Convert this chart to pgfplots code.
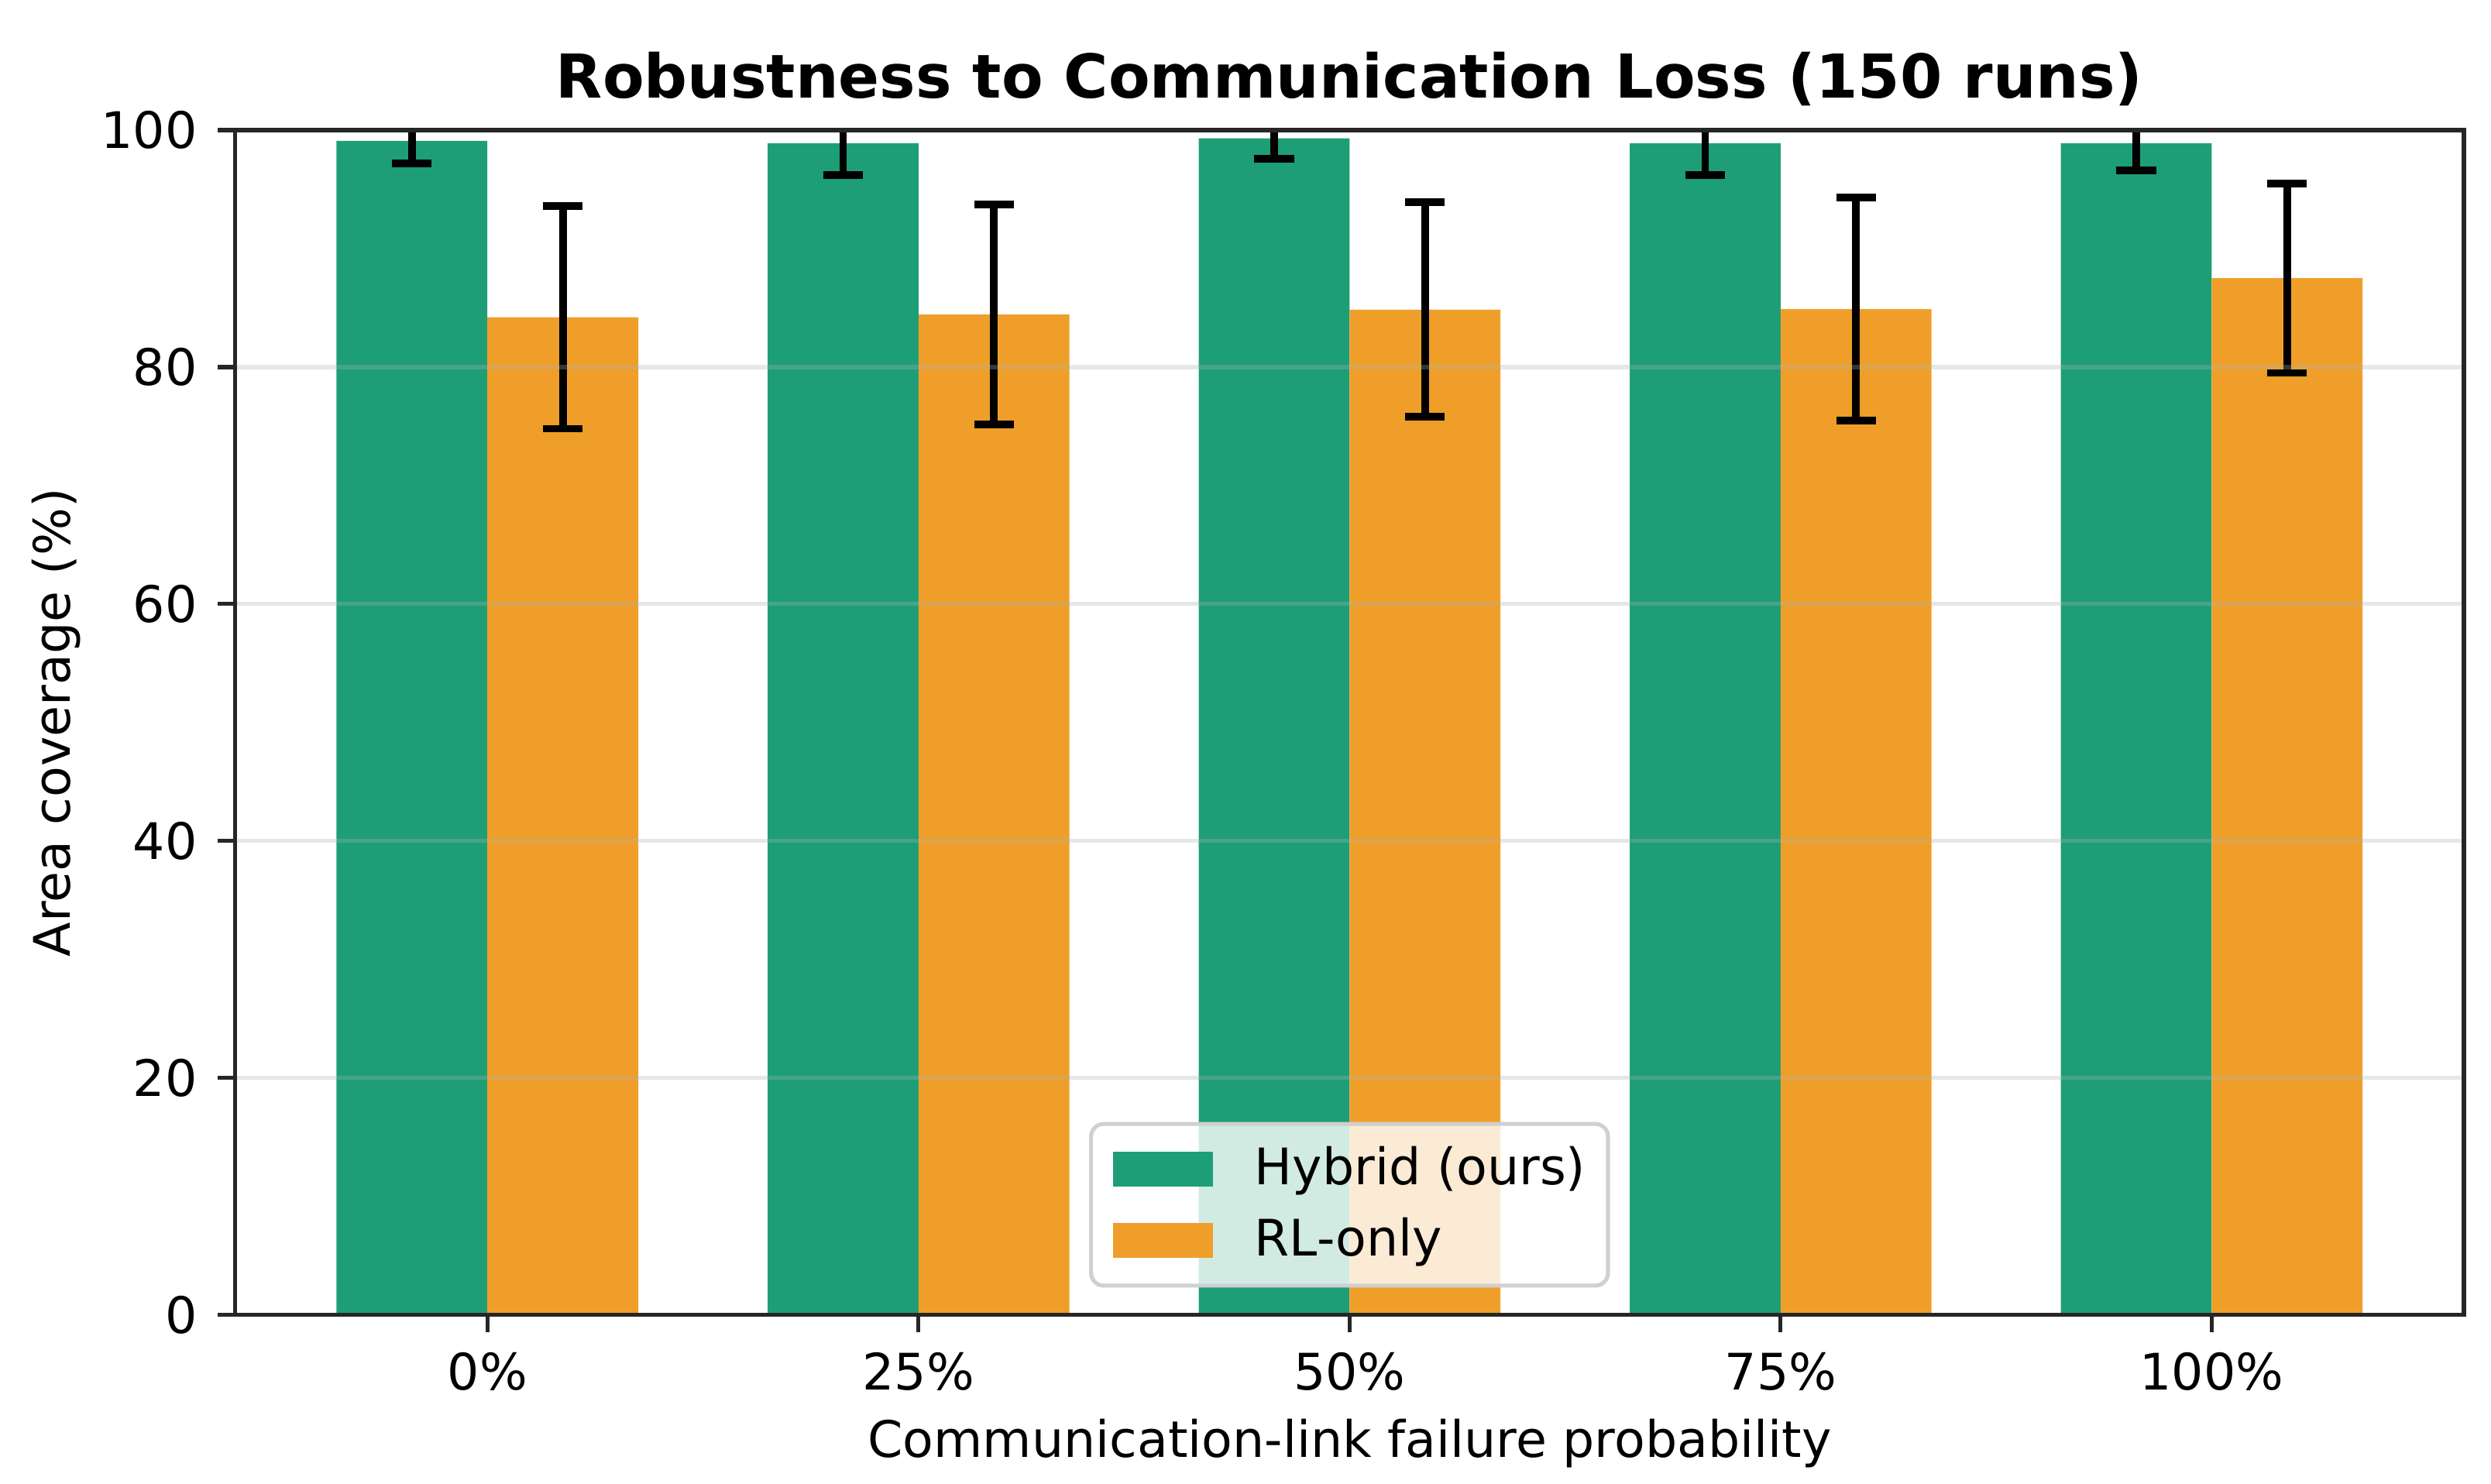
\documentclass[border=0pt]{standalone}
\usepackage{fontspec}
\setmainfont{DejaVu Sans}
\usepackage{pgfplots}
\usepackage{pgfplotstable}
\pgfplotsset{compat=1.18}
\definecolor{hyb}{RGB}{29,158,119}
\definecolor{rlc}{RGB}{239,159,41}
\definecolor{spine}{RGB}{38,38,38}
\definecolor{legframe}{RGB}{208,208,208}
\definecolor{gridc}{RGB}{176,176,176}

\pgfplotstableread{
x y e
-0.175 99.1 1.9
0.825 98.9 2.7
1.825 99.3 1.7
2.825 98.9 2.7
3.825 98.9 2.3
}\hybtab

\pgfplotstableread{
x y e
0.175 84.2 9.4
1.175 84.45 9.3
2.175 84.85 9.05
3.175 84.9 9.4
4.175 87.5 8.0
}\rltab

\begin{document}
\begin{tikzpicture}
\useasboundingbox (-48.6pt,-34.9pt) rectangle (466.1pt,271.7pt);
\begin{axis}[
  at={(0,0)}, anchor=south west,
  scale only axis, width=460.5pt, height=244.8pt,
  xmin=-0.585, xmax=4.585, ymin=0, ymax=100,
  xtick={0,1,2,3,4}, xticklabels={0\%,25\%,50\%,75\%,100\%},
  ytick={0,20,40,60,80,100},
  tick pos=left,
  tick align=outside, major tick length=3.64pt,
  tick style={spine, line width=0.83pt},
  axis line style={spine, line width=0.83pt},
  ymajorgrids, grid style={gridc, opacity=0.3, line width=0.83pt},
  axis on top,
  /pgf/number format/assume math mode=true,
  tick label style={font=\fontsize{10.4}{12.5}\selectfont, text=black},
  xticklabel style={inner sep=0pt, anchor=north, yshift=-4pt},
  yticklabel style={inner sep=0pt, anchor=east, xshift=-4pt},
  title={Robustness to Communication Loss (150 runs)},
  title style={font=\bfseries\fontsize{12.5}{15}\selectfont, at={(axis description cs:0.5,1)}, anchor=center, yshift=4.6pt},
  xlabel={Communication-link failure probability},
  xlabel style={font=\fontsize{10.4}{12.5}\selectfont, at={(axis description cs:0.5,0)}, anchor=center, yshift=-26.5pt},
  ylabel={Area coverage (\%)},
  ylabel style={font=\fontsize{10.4}{12.5}\selectfont, at={(axis description cs:0,0.5)}, anchor=center, yshift=37pt},
  legend style={at={(0.5,0.023)}, anchor=south, draw=legframe, line width=0.83pt, rounded corners=2.6pt,
    fill=white, fill opacity=0.8, text opacity=1, draw opacity=1,
    font=\fontsize{10.4}{12.5}\selectfont, inner xsep=4.6pt, inner ysep=4.6pt,
    nodes={inner sep=0pt, anchor=west}, column sep=8.6pt, row sep=5.4pt},
  legend cell align=left,
]
\addplot[ybar, bar width=0.35, bar shift=0pt, fill=hyb, draw=none,
  legend image code/.code={\fill[hyb, fill opacity=1, sharp corners] (0pt,-3.6pt) rectangle (20.6pt,3.6pt);},
  error bars/.cd, y dir=both, y explicit,
  error bar style={black, line width=1.56pt},
  error mark options={black, line width=1.56pt, mark size=4.1pt, rotate=90}]
  table[x=x, y=y, y error=e]{\hybtab};
\addlegendentry{Hybrid (ours)}
\addplot[ybar, bar width=0.35, bar shift=0pt, fill=rlc, draw=none,
  legend image code/.code={\fill[rlc, fill opacity=1, sharp corners] (0pt,-3.6pt) rectangle (20.6pt,3.6pt);},
  error bars/.cd, y dir=both, y explicit,
  error bar style={black, line width=1.56pt},
  error mark options={black, line width=1.56pt, mark size=4.1pt, rotate=90}]
  table[x=x, y=y, y error=e]{\rltab};
\addlegendentry{RL-only}
\end{axis}
\end{tikzpicture}
\end{document}
